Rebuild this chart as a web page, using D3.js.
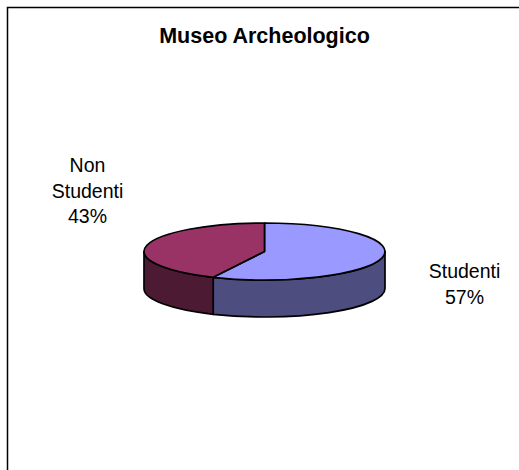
<!DOCTYPE html>
<html>
<head>
<meta charset="utf-8">
<title>Museo Archeologico</title>
<script src="https://d3js.org/d3.v7.min.js"></script>
<style>
  body { margin: 0; background: #fff; }
  text { font-family: "Liberation Sans", Arial, sans-serif; fill: #000; }
</style>
</head>
<body>
<svg id="chart" width="519" height="470"></svg>
<script>
// data
var categories = ["Studenti", "Non Studenti"];
var values = [57, 43];
var topColors = ["#9999FF", "#993366"];
var sideColors = ["#4D4D80", "#4D1A33"];
var title = "Museo Archeologico";

var svg = d3.select("#chart");

// frame (runs off the right and bottom edge like the original)
svg.append("rect")
    .attr("x", 7.5).attr("y", 7.5)
    .attr("width", 540).attr("height", 500)
    .attr("fill", "#fff")
    .attr("stroke", "#000")
    .attr("stroke-width", 1.5);

svg.append("text")
    .attr("x", 264.5).attr("y", 42.5)
    .attr("text-anchor", "middle")
    .style("font-size", "21.5px")
    .style("font-weight", "bold")
    .text(title);

// ellipse geometry of the 3d pie
var cx = 264.5, cy = 251.5, rx = 120.5, ry = 28.5, depth = 37;

var pie = d3.pie().sort(null).startAngle(0).endAngle(2 * Math.PI);
var arcs = pie(values);

var sx = d3.scaleLinear().domain([-1, 1]).range([cx - rx, cx + rx]);
var sy = d3.scaleLinear().domain([-1, 1]).range([cy - ry, cy + ry]);

function pt(a, dy) {
    return [sx(Math.sin(a)), sy(-Math.cos(a)) + (dy || 0)];
}

function topPath(d) {
    var p0 = pt(d.startAngle), p1 = pt(d.endAngle);
    var large = (d.endAngle - d.startAngle) > Math.PI ? 1 : 0;
    return "M" + cx + "," + cy + "L" + p0 + "A" + rx + "," + ry + " 0 " + large + " 1 " + p1 + "Z";
}

function sidePath(d) {
    // only the front half of the rim is seen
    var s = Math.max(d.startAngle, Math.PI / 2);
    var e = Math.min(d.endAngle, 3 * Math.PI / 2);
    if (e <= s) return null;
    var a = pt(s), b = pt(e), b2 = pt(e, depth), a2 = pt(s, depth);
    return "M" + a + "A" + rx + "," + ry + " 0 0 1 " + b +
        "L" + b2 + "A" + rx + "," + ry + " 0 0 0 " + a2 + "Z";
}

var g = svg.append("g");

g.selectAll("path.side")
    .data(arcs.filter(function(d) { return sidePath(d) !== null; }))
    .enter().append("path")
    .attr("class", "side")
    .attr("d", sidePath)
    .attr("fill", function(d) { return sideColors[d.index]; })
    .attr("stroke", "#000")
    .attr("stroke-width", 1.7)
    .attr("stroke-linejoin", "round");

g.selectAll("path.top")
    .data(arcs)
    .enter().append("path")
    .attr("class", "top")
    .attr("d", topPath)
    .attr("fill", function(d) { return topColors[d.index]; })
    .attr("stroke", "#000")
    .attr("stroke-width", 1.7)
    .attr("stroke-linejoin", "round");

// labels: category words on their own line, then the percent
var total = d3.sum(values);
var labelSpot = [[464.5, 278], [87.5, 172]];
var lineH = 25.5;

arcs.forEach(function(d, i) {
    var lines = categories[i].split(" ");
    lines.push(Math.round(values[i] / total * 100) + "%");
    var t = svg.append("text")
        .attr("text-anchor", "middle")
        .style("font-size", "19.5px");
    lines.forEach(function(l, k) {
        t.append("tspan")
            .attr("x", labelSpot[i][0])
            .attr("y", labelSpot[i][1] + k * lineH)
            .text(l);
    });
});
</script>
</body>
</html>
